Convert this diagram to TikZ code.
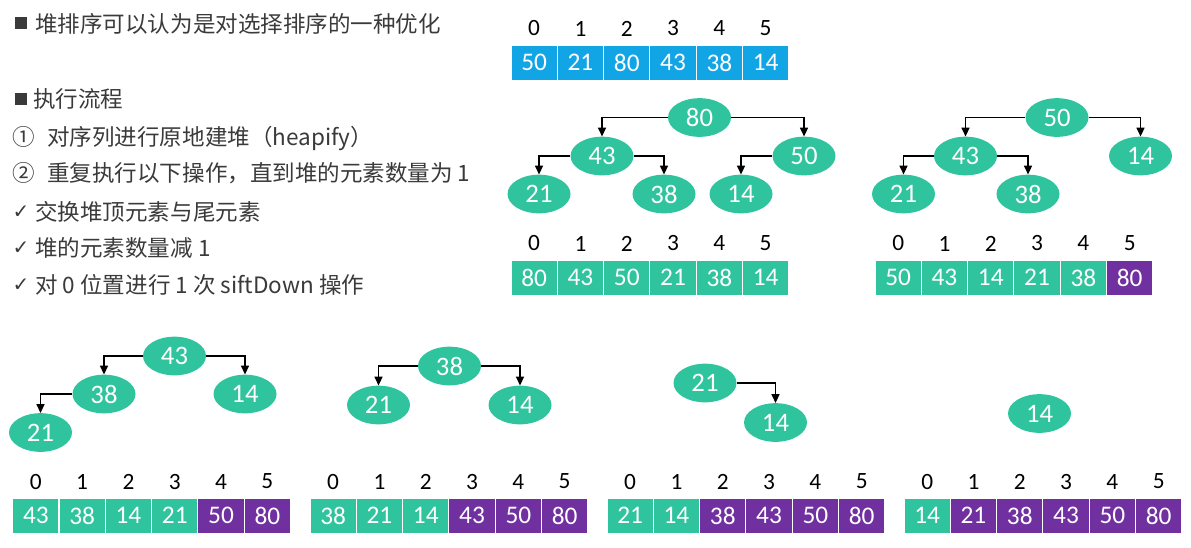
\documentclass[tikz,border=0pt]{standalone}
\usepackage{fontspec}
\setmainfont{Carlito}
\newfontfamily\cjkf{Noto Sans CJK SC}
\newfontfamily\djv{DejaVu Sans}
\usetikzlibrary{shapes.geometric,arrows.meta}
\definecolor{hblue}{HTML}{12A5E6}
\definecolor{hteal}{HTML}{2FC49D}
\definecolor{hpurple}{HTML}{7030A0}
\definecolor{txt}{HTML}{3A3A3A}
\tikzset{
  hnode/.style={ellipse, fill=hteal, minimum width=47.25pt, minimum height=29pt, inner sep=0pt, text=white, font=\fontsize{20}{20}\selectfont},
  cell/.style={rectangle, draw=white, line width=0.75pt, minimum width=34.7pt, minimum height=26.25pt, inner sep=0pt, text=white, font=\fontsize{19}{19}\selectfont},
  idx/.style={font=\fontsize{17.5}{17.5}\selectfont, text=black, inner sep=0pt},
  link/.style={-{Triangle[length=6.5pt,width=6pt]}, line width=1.1pt, black},
  say/.style={anchor=base west, inner sep=0pt, text=txt, font=\cjkf\fontsize{16.9}{20}\selectfont},
  bulletbox/.style={rectangle, fill=txt, minimum size=9pt, inner sep=0pt},
  tick/.style={inner sep=0pt, text=txt, font=\djv\fontsize{15}{15}\selectfont}
}
\newcommand\harray[6]{%
  \foreach \v [count=\i from 0] in {#4} {
    \ifnum\i<#5 \def\cc{#6}\else\def\cc{hpurple}\fi
    \node[cell, fill=\cc] (#1c\i) at ({#2+23.15+46.3*\i}, #3) {\v};
    \node[idx] (#1i\i) at ({#2+23.15+46.3*\i}, #3-34) {\i};
  }}
\begin{document}
\begin{tikzpicture}[x=0.75pt,y=-0.75pt]
\useasboundingbox (0,0) rectangle (1191,547);
% left text
\node[bulletbox] (b1) at (21,23) {};
\node[say] (l1) at (35,32.5) {堆排序可以认为是对选择排序的一种优化};
\node[bulletbox] (b2) at (21,98.5) {};
\node[say] (l2) at (33,107.5) {执行流程};
\node[say] (n1) at (12,145.5) {①};
\node[say] (l3) at (47,145.5) {对序列进行原地建堆（heapify）};
\node[say] (n2) at (12,181.5) {②};
\node[say] (l4) at (47,181.5) {重复执行以下操作，直到堆的元素数量为 1};
\node[tick] (k1) at (21,212) {✓};
\node[say] (l5) at (35,220.5) {交换堆顶元素与尾元素};
\node[tick] (k2) at (21,248) {✓};
\node[say] (l6) at (35,256.5) {堆的元素数量减 1};
\node[tick] (k3) at (21,285) {✓};
\node[say] (l7) at (35,293.5) {对 0 位置进行 1 次 siftDown 操作};
% arrays
\harray{a}{511}{62.5}{50,21,80,43,38,14}{6}{hblue}
\harray{b}{511}{277.5}{80,43,50,21,38,14}{6}{hteal}
\harray{c}{875}{277.5}{50,43,14,21,38,80}{5}{hteal}
\harray{d}{12.7}{515.5}{43,38,14,21,50,80}{4}{hteal}
\harray{e}{310}{515.5}{38,21,14,43,50,80}{3}{hteal}
\harray{f}{607}{515.5}{21,14,38,43,50,80}{2}{hteal}
\harray{g}{904}{515.5}{14,21,38,43,50,80}{1}{hteal}
% tree 1
\node[hnode] (p80) at (699.5,117.5) {80};
\node[hnode] (p43) at (602,156) {43};
\node[hnode] (p50) at (804,156) {50};
\node[hnode] (p21) at (539,194) {21};
\node[hnode] (p38) at (664,194) {38};
\node[hnode] (p14) at (741,194) {14};
\draw[link] (p80.west) -| (p43.north);
\draw[link] (p80.east) -| (p50.north);
\draw[link] (p43.west) -| (p21.north);
\draw[link] (p43.east) -| (p38.north);
\draw[link] (p50.west) -| (p14.north);
% tree 2
\node[hnode] (q50) at (1057,117.5) {50};
\node[hnode] (q43) at (965.5,156) {43};
\node[hnode] (q14) at (1140.5,156) {14};
\node[hnode] (q21) at (903.5,194) {21};
\node[hnode] (q38) at (1028,194) {38};
\draw[link] (q50.west) -| (q43.north);
\draw[link] (q50.east) -| (q14.north);
\draw[link] (q43.west) -| (q21.north);
\draw[link] (q43.east) -| (q38.north);
% tree 3
\node[hnode] (r43) at (174.5,356) {43};
\node[hnode] (r38) at (104,394) {38};
\node[hnode] (r14) at (245,394) {14};
\node[hnode] (r21) at (40.5,432.5) {21};
\draw[link] (r43.west) -| (r38.north);
\draw[link] (r43.east) -| (r14.north);
\draw[link] (r38.west) -| (r21.north);
% tree 4
\node[hnode] (s38) at (449.5,366) {38};
\node[hnode] (s21) at (378.5,405) {21};
\node[hnode] (s14) at (520,405) {14};
\draw[link] (s38.west) -| (s21.north);
\draw[link] (s38.east) -| (s14.north);
% tree 5
\node[hnode] (t21) at (705,383) {21};
\node[hnode] (t14) at (775.5,422.5) {14};
\draw[link] (t21.east) -| (t14.north);
% tree 6
\node[hnode] (u14) at (1039.5,413.5) {14};
\end{tikzpicture}
\end{document}
